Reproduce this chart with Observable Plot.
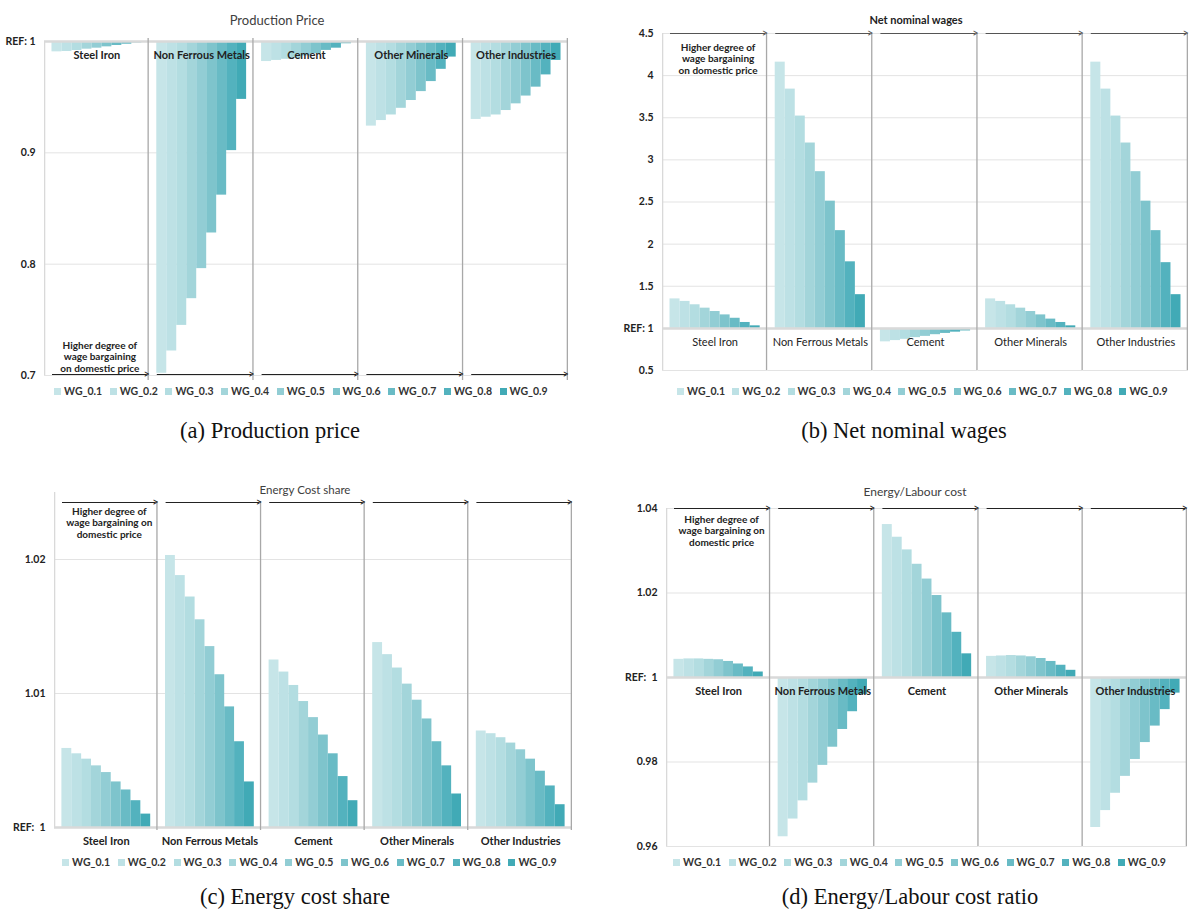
<!DOCTYPE html>
<html><head><meta charset="utf-8">
<script src="https://cdn.jsdelivr.net/npm/d3@7"></script>
<script src="https://cdn.jsdelivr.net/npm/@observablehq/plot@0.6"></script>
<style>
html,body{margin:0;padding:0;background:#fff;}
body{width:1192px;height:912px;position:relative;overflow:hidden;font-family:Lato,"Open Sans",sans-serif;}
.abs{position:absolute;}
.ctr{position:absolute;transform:translate(-50%,-50%);white-space:nowrap;}
.leg{position:absolute;height:14px;}
.leg .it{position:absolute;top:0;display:flex;align-items:center;white-space:nowrap;font-size:10.5px;font-weight:bold;color:#333;}
.leg .sw{width:7px;height:7px;margin-right:3px;display:inline-block;}
.pa svg [aria-label^="y-axis"] text{font-weight:bold;fill:#222;}
</style></head><body>
<script>
const industries = ["Steel Iron", "Non Ferrous Metals", "Cement", "Other Minerals", "Other Industries"];
const wgLabels = ["WG_0.1", "WG_0.2", "WG_0.3", "WG_0.4", "WG_0.5", "WG_0.6", "WG_0.7", "WG_0.8", "WG_0.9"];
const wgColors = ["#c6e5e8", "#bde1e5", "#b3dde1", "#a3d5da", "#92cdd4", "#7ec4cc", "#69bbc5", "#53b2be", "#41aab6"];

// rows: industries, columns: WG_0.1 .. WG_0.9
const productionPrice = [
  [0.9907, 0.991, 0.9919, 0.9931, 0.994, 0.9952, 0.9964, 0.9976, 0.9988],
  [0.702, 0.722, 0.745, 0.769, 0.796, 0.828, 0.862, 0.902, 0.948],
  [0.982, 0.983, 0.984, 0.985, 0.987, 0.989, 0.992, 0.994, 0.998],
  [0.924, 0.929, 0.934, 0.940, 0.947, 0.955, 0.964, 0.975, 0.986],
  [0.930, 0.932, 0.934, 0.938, 0.944, 0.951, 0.959, 0.970, 0.983]
];
const netNominalWages = [
  [1.35, 1.32, 1.28, 1.24, 1.20, 1.16, 1.12, 1.07, 1.03],
  [4.16, 3.84, 3.52, 3.20, 2.86, 2.51, 2.16, 1.79, 1.40],
  [0.84, 0.855, 0.87, 0.89, 0.905, 0.925, 0.94, 0.955, 0.97],
  [1.35, 1.32, 1.28, 1.24, 1.20, 1.16, 1.11, 1.07, 1.03],
  [4.16, 3.84, 3.52, 3.20, 2.86, 2.51, 2.16, 1.78, 1.40]
];
const energyCostShare = [
  [1.0059, 1.0055, 1.0051, 1.0046, 1.0041, 1.0034, 1.0028, 1.0020, 1.0010],
  [1.0203, 1.0188, 1.0172, 1.0155, 1.0135, 1.0114, 1.0090, 1.0064, 1.0034],
  [1.0125, 1.0116, 1.0106, 1.0094, 1.0082, 1.0069, 1.0055, 1.0038, 1.0020],
  [1.0138, 1.0129, 1.0119, 1.0107, 1.0095, 1.0081, 1.0064, 1.0046, 1.0025],
  [1.0072, 1.0070, 1.0067, 1.0063, 1.0058, 1.0051, 1.0042, 1.0031, 1.0017]
];
const energyLabourCost = [
  [1.0043, 1.0044, 1.0044, 1.0043, 1.0042, 1.0038, 1.0032, 1.0025, 1.0013],
  [0.9623, 0.9665, 0.9708, 0.9750, 0.9792, 0.9835, 0.9877, 0.9919, 0.9960],
  [1.0362, 1.0332, 1.0302, 1.0268, 1.0233, 1.0194, 1.0153, 1.0107, 1.0056],
  [1.0050, 1.0051, 1.0052, 1.0051, 1.0049, 1.0045, 1.0038, 1.0029, 1.0017],
  [0.9645, 0.9685, 0.9726, 0.9766, 0.9806, 0.9846, 0.9885, 0.9924, 0.9963]
];

const priceTicks = [0.7, 0.8, 0.9, 1];
const wageTicks = [0.5, 1, 1.5, 2, 2.5, 3, 3.5, 4, 4.5];
const shareTicks = [1, 1.01, 1.02];
const ratioTicks = [0.96, 0.98, 1, 1.02, 1.04];

const panelTitles = ["Production Price", "Net nominal wages", "Energy Cost share", "Energy/Labour cost"];
const captions = ["(a) Production price", "(b) Net nominal wages", "(c) Energy cost share", "(d) Energy/Labour cost ratio"];
const noteA = "Higher degree of\nwage bargaining\non domestic price";
const noteC = "Higher degree of\nwage bargaining on\ndomestic price";

function rows(values) {
  return industries.flatMap((ind, i) => wgLabels.map((wg, j) => ({ind, wg, v: values[i][j]})));
}

function panel(cfg) {
  const {values, domain, ticks, refLabel, left, top, width, height, ml, mr, mt, mb,
         arrowAt, arrowDy, arrowColor, noteText, noteAt, noteDy, labelWeight, sepTop, sepBottom} = cfg;
  const fw = (width - ml - mr) / industries.length;
  const [lo, hi] = domain;
  const arrowY = arrowAt === "top" ? hi : lo;
  const chart = Plot.plot({
    width, height, marginLeft: ml, marginRight: mr, marginTop: mt, marginBottom: mb,
    style: {fontFamily: "Lato, 'Open Sans', sans-serif", fontSize: "10.5px", color: "#222", background: "transparent", overflow: "visible"},
    fx: {domain: industries, padding: 0, round: false, axis: null, label: null},
    x: {domain: wgLabels, paddingInner: 0, paddingOuter: 0.75, round: false, axis: null},
    y: {domain, ticks, tickFormat: d => d === 1 ? refLabel : String(d), tickSize: 0, tickPadding: 9, label: null},
    color: {domain: wgLabels, range: wgColors},
    marks: [
      Plot.ruleY(ticks.filter(t => t !== 1), {stroke: "#e3e3e3"}),
      Plot.barY(rows(values), {fx: "ind", x: "wg", y1: () => 1, y2: "v", fill: "wg"}),
      Plot.ruleY([1], {stroke: "#d9d9d9", strokeWidth: 2.5}),
      Plot.rect([0], {y1: () => lo, y2: () => hi, insetLeft: fw - 1.3, insetTop: sepTop, insetBottom: sepBottom, fill: "#a8a8a8"}),
      Plot.rect([industries[0]], {fx: d => d, y1: () => lo, y2: () => hi, insetRight: fw - 1.3, fill: "#d9d9d9"}),
      Plot.ruleY([arrowY], {insetLeft: 8, insetRight: 2, dy: arrowDy, stroke: arrowColor, strokeWidth: 1.2}),
      Plot.text([">"], {y: () => arrowY, frameAnchor: "right", textAnchor: "end", dy: arrowDy, dx: 0.5, text: d => d, fontSize: 11, fill: arrowColor}),
      Plot.text(industries, {fx: d => d, y: () => 1, text: d => d, dy: 14, fontSize: 11, fontWeight: labelWeight, fill: "#222"}),
      Plot.text([noteText], {fx: () => industries[0], frameAnchor: noteAt, lineAnchor: noteAt, dy: noteDy, dx: 3, text: d => d, fontSize: 10, fontWeight: "bold", lineHeight: 1.15, fill: "#222"})
    ]
  });
  const wrap = document.createElement("div");
  wrap.className = "abs pa";
  wrap.style.left = left + "px";
  wrap.style.top = top + "px";
  wrap.appendChild(chart);
  document.body.appendChild(wrap);
}

function legend(left, top, step) {
  const div = document.createElement("div");
  div.className = "leg";
  div.style.left = left + "px";
  div.style.top = (top - 7) + "px";
  wgLabels.forEach((w, i) => {
    const it = document.createElement("div");
    it.className = "it";
    it.style.left = (i * step) + "px";
    const sw = document.createElement("span");
    sw.className = "sw";
    sw.style.background = wgColors[i];
    const tx = document.createElement("span");
    tx.textContent = w;
    it.appendChild(sw); it.appendChild(tx);
    div.appendChild(it);
  });
  document.body.appendChild(div);
}

function label(text, x, y, css) {
  const d = document.createElement("div");
  d.className = "ctr";
  d.style.left = x + "px";
  d.style.top = y + "px";
  d.style.cssText += css;
  d.textContent = text;
  document.body.appendChild(d);
}

// (a) Production price
panel({values: productionPrice, domain: [0.7, 1], ticks: priceTicks, refLabel: "REF: 1",
  left: 0, top: 0, width: 590, height: 392, ml: 44, mr: 22, mt: 41, mb: 17,
  arrowAt: "bottom", arrowDy: -1, arrowColor: "#222", noteText: noteA, noteAt: "bottom", noteDy: -4,
  labelWeight: "bold", sepTop: -3, sepBottom: -5});
// (b) Net nominal wages
panel({values: netNominalWages, domain: [0.5, 4.5], ticks: wageTicks, refLabel: "REF: 1",
  left: 600, top: 0, width: 592, height: 390, ml: 62, mr: 4, mt: 33, mb: 20,
  arrowAt: "top", arrowDy: 0, arrowColor: "#555", noteText: noteA, noteAt: "top", noteDy: 9,
  labelWeight: "normal", sepTop: 0, sepBottom: 0});
// (c) Energy cost share
panel({values: energyCostShare, domain: [1, 1.025], ticks: shareTicks, refLabel: "REF:  1",
  left: 0, top: 470, width: 590, height: 380, ml: 54, mr: 18, mt: 22, mb: 23,
  arrowAt: "top", arrowDy: 10, arrowColor: "#222", noteText: noteC, noteAt: "top", noteDy: 14,
  labelWeight: "bold", sepTop: 9, sepBottom: -3});
// (d) Energy/Labour cost ratio
panel({values: energyLabourCost, domain: [0.96, 1.04], ticks: ratioTicks, refLabel: "REF:  1",
  left: 600, top: 470, width: 592, height: 392, ml: 66, mr: 5, mt: 38, mb: 16,
  arrowAt: "top", arrowDy: 0, arrowColor: "#222", noteText: noteC, noteAt: "top", noteDy: 6,
  labelWeight: "bold", sepTop: 0, sepBottom: 0});

legend(54, 392, 55.7);
legend(677, 392, 55.3);
legend(62, 863, 55.8);
legend(673, 863, 55.6);

label(panelTitles[0], 277, 20, "font-size:13px;color:#404040;");
label(panelTitles[1], 916, 19, "font-size:11px;font-weight:bold;color:#222;");
label(panelTitles[2], 305, 489, "font-size:11.5px;color:#404040;");
label(panelTitles[3], 915, 491, "font-size:12px;color:#404040;");

const capCss = "font-family:'Liberation Serif',serif;font-size:22.5px;color:#111;";
label(captions[0], 270, 431, capCss);
label(captions[1], 904, 431, capCss);
label(captions[2], 295, 897, capCss);
label(captions[3], 910, 897, capCss);
</script>
</body></html>
